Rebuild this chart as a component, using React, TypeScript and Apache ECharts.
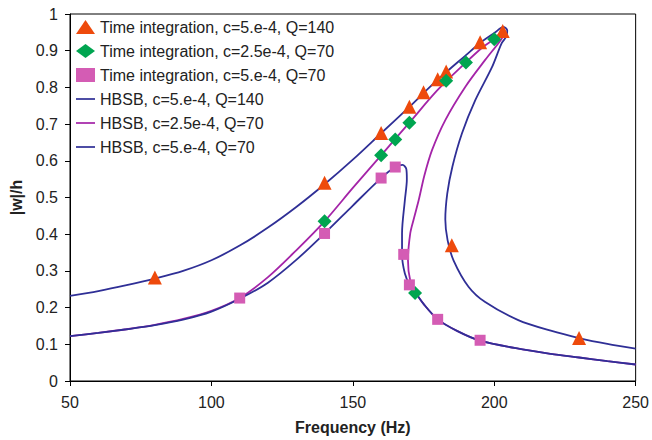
import React, { useEffect, useRef } from "react";
import * as echarts from "echarts";

// Time-integration results (markers)
const tiFreqC5Q140 = [80, 140, 160, 170, 175, 180, 183, 195, 203, 185, 230];
const tiAmpC5Q140 = [0.282, 0.54, 0.676, 0.747, 0.787, 0.822, 0.843, 0.923, 0.954, 0.37, 0.117];

const tiFreqC25Q70 = [140, 160, 165, 170, 172, 183, 190, 200];
const tiAmpC25Q70 = [0.435, 0.615, 0.658, 0.704, 0.24, 0.818, 0.868, 0.931];

const tiFreqC5Q70 = [110, 140, 160, 165, 168, 170, 180, 195];
const tiAmpC5Q70 = [0.226, 0.402, 0.553, 0.583, 0.345, 0.262, 0.168, 0.111];

// HBSB frequency-response curves, listed in order along each curve
const hbFreqC5Q140 = [
  50, 60, 70, 80, 90, 100, 110, 120, 130, 140, 150, 160, 170, 180, 190, 195, 200, 203.3, 204.6,
  204.2, 202.6, 199.2, 193.3, 188.6, 185.2, 183.4, 182.7, 183.5, 185.6, 190.9, 196.8, 208.5, 220,
  230, 240, 250,
];
const hbAmpC5Q140 = [
  0.232, 0.245, 0.261, 0.279, 0.3, 0.329, 0.369, 0.418, 0.474, 0.536, 0.603, 0.675, 0.747, 0.821,
  0.888, 0.921, 0.948, 0.965, 0.955, 0.938, 0.92, 0.855, 0.765, 0.675, 0.584, 0.511, 0.44, 0.384,
  0.329, 0.257, 0.215, 0.166, 0.137, 0.117, 0.101, 0.088,
];

const hbFreqC25Q70 = [
  50, 60, 70, 80, 90, 100, 110, 120, 130, 140, 150, 160, 170, 180, 190, 196, 200, 202.6, 203.6,
  202.2, 196.8, 189.8, 182.7, 178, 175.3, 173.3, 171.5, 170.3, 169.5, 170.3, 172.5, 175, 180, 187,
  195, 210, 220, 230, 240, 250,
];
const hbAmpC25Q70 = [
  0.122, 0.131, 0.141, 0.153, 0.169, 0.191, 0.226, 0.283, 0.356, 0.435, 0.526, 0.615, 0.704, 0.793,
  0.868, 0.91, 0.932, 0.949, 0.948, 0.928, 0.875, 0.802, 0.711, 0.629, 0.56, 0.493, 0.44, 0.402,
  0.329, 0.274, 0.238, 0.21, 0.168, 0.136, 0.11, 0.086, 0.074, 0.064, 0.054, 0.045,
];

const hbFreqC5Q70 = [
  50, 60, 70, 80, 90, 100, 110, 120, 130, 140, 150, 160, 165, 167.6, 168.9, 169.1, 168.4, 167.4,
  167.4, 168.4, 170.1, 172.5, 175, 180, 187, 195, 210, 220, 230, 240, 250,
];
const hbAmpC5Q70 = [
  0.122, 0.131, 0.141, 0.152, 0.167, 0.189, 0.224, 0.268, 0.33, 0.402, 0.478, 0.553, 0.583, 0.589,
  0.578, 0.55, 0.493, 0.402, 0.345, 0.293, 0.262, 0.237, 0.21, 0.168, 0.136, 0.11, 0.086, 0.074,
  0.064, 0.054, 0.045,
];

const pairs = (xs: number[], ys: number[]) => xs.map((x, i) => [x, ys[i]]);

const FONT = "Liberation Sans, Arial, sans-serif";
const BLUE = "#2f2f96";
const MAGENTA = "#a424a8";
const LINE_ICON = "path://M0,0H20V1.8H0Z";

export default function App() {
  const ref = useRef<HTMLDivElement>(null);

  useEffect(() => {
    if (!ref.current) return;
    const chart = echarts.init(ref.current, undefined, { renderer: "svg" });

    const lineSeries = (name: string, data: number[][], color: string) => ({
      name,
      type: "line",
      data,
      smooth: 0.3,
      symbol: "none",
      showSymbol: false,
      lineStyle: { color, width: 1.8 },
      itemStyle: { color },
      z: 2,
    });

    const markerSeries = (
      name: string,
      data: number[][],
      symbol: string,
      size: number,
      color: string
    ) => ({
      name,
      type: "scatter",
      data,
      symbol,
      symbolSize: size,
      itemStyle: { color, opacity: 1 },
      z: 5,
    });

    chart.setOption({
      animation: false,
      backgroundColor: "#fff",
      grid: {
        left: 70,
        right: 14,
        top: 14,
        bottom: 59,
        show: true,
        borderColor: "#000",
        borderWidth: 1,
        backgroundColor: "transparent",
      },
      legend: {
        orient: "vertical",
        left: 76,
        top: 19,
        padding: 0,
        itemWidth: 19,
        itemHeight: 14,
        itemGap: 8,
        textStyle: { fontFamily: FONT, fontSize: 16, color: "#222", lineHeight: 14 },
        data: [
          { name: "Time integration, c=5.e-4, Q=140", icon: "triangle" },
          { name: "Time integration, c=2.5e-4, Q=70", icon: "diamond" },
          { name: "Time integration, c=5.e-4, Q=70", icon: "rect" },
          { name: "HBSB, c=5.e-4, Q=140", icon: LINE_ICON },
          { name: "HBSB, c=2.5e-4, Q=70", icon: LINE_ICON },
          { name: "HBSB, c=5.e-4, Q=70", icon: LINE_ICON },
        ],
      },
      xAxis: {
        type: "value",
        min: 50,
        max: 250,
        interval: 50,
        name: "Frequency (Hz)",
        nameLocation: "middle",
        nameGap: 38,
        nameTextStyle: { fontFamily: FONT, fontSize: 16, fontWeight: "bold", color: "#222" },
        axisLine: { show: true, lineStyle: { color: "#000", width: 1 } },
        axisTick: { show: true, inside: false, length: 5, lineStyle: { color: "#000" } },
        axisLabel: { fontFamily: FONT, fontSize: 16, color: "#222", margin: 13 },
        splitLine: { show: false },
      },
      yAxis: {
        type: "value",
        min: 0,
        max: 1,
        interval: 0.1,
        name: "|w|/h",
        nameLocation: "middle",
        nameGap: 44,
        nameTextStyle: { fontFamily: FONT, fontSize: 16, fontWeight: "bold", color: "#222" },
        axisLine: { show: true, lineStyle: { color: "#000", width: 1 } },
        axisTick: { show: true, inside: false, length: 5, lineStyle: { color: "#000" } },
        axisLabel: { fontFamily: FONT, fontSize: 16, color: "#222", margin: 12 },
        splitLine: { show: false },
      },
      series: [
        markerSeries(
          "Time integration, c=5.e-4, Q=140",
          pairs(tiFreqC5Q140, tiAmpC5Q140),
          "triangle",
          14,
          "#ee4a0c"
        ),
        markerSeries(
          "Time integration, c=2.5e-4, Q=70",
          pairs(tiFreqC25Q70, tiAmpC25Q70),
          "diamond",
          14,
          "#00a550"
        ),
        markerSeries(
          "Time integration, c=5.e-4, Q=70",
          pairs(tiFreqC5Q70, tiAmpC5Q70),
          "rect",
          11,
          "#d45cb4"
        ),
        lineSeries("HBSB, c=5.e-4, Q=140", pairs(hbFreqC5Q140, hbAmpC5Q140), BLUE),
        lineSeries("HBSB, c=2.5e-4, Q=70", pairs(hbFreqC25Q70, hbAmpC25Q70), MAGENTA),
        lineSeries("HBSB, c=5.e-4, Q=70", pairs(hbFreqC5Q70, hbAmpC5Q70), BLUE),
      ],
    });

    return () => chart.dispose();
  }, []);

  return (
    <div
      ref={ref}
      style={{ position: "fixed", left: 0, top: 0, width: 652, height: 440, background: "#fff" }}
    />
  );
}
